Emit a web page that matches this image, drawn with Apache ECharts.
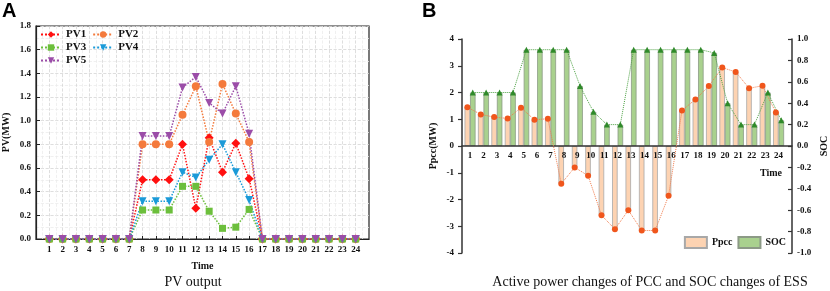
<!DOCTYPE html>
<html>
<head>
<meta charset="utf-8">
<script src="https://cdn.jsdelivr.net/npm/echarts@6/dist/echarts.min.js"></script>
<style>
  html, body { margin: 0; padding: 0; background: #fff; }
  #chart { width: 830px; height: 291px; }
</style>
</head>
<body>
<div id="chart"></div>
<script>
  // hours of the day, shared by both panels
  const hours = [1, 2, 3, 4, 5, 6, 7, 8, 9, 10, 11, 12, 13, 14, 15, 16, 17, 18, 19, 20, 21, 22, 23, 24]

  // panel A: PV output (MW)
  const pv1 = [0, 0, 0, 0, 0, 0, 0, 0.5, 0.5, 0.5, 0.8, 0.26, 0.855, 0.565, 0.81, 0.51, 0, 0, 0, 0, 0, 0, 0, 0]
  const pv2 = [0, 0, 0, 0, 0, 0, 0, 0.8, 0.8, 0.8, 1.05, 1.29, 0.82, 1.31, 1.06, 0.82, 0, 0, 0, 0, 0, 0, 0, 0]
  const pv3 = [0, 0, 0, 0, 0, 0, 0, 0.245, 0.245, 0.245, 0.445, 0.445, 0.235, 0.09, 0.1, 0.25, 0, 0, 0, 0, 0, 0, 0, 0]
  const pv4 = [0, 0, 0, 0, 0, 0, 0, 0.32, 0.32, 0.32, 0.565, 0.52, 0.67, 0.8, 0.565, 0.33, 0, 0, 0, 0, 0, 0, 0, 0]
  const pv5 = [0, 0, 0, 0, 0, 0, 0, 0.87, 0.87, 0.87, 1.28, 1.37, 1.15, 1.06, 1.29, 0.89, 0, 0, 0, 0, 0, 0, 0, 0]

  // panel B: PCC active power (MW) and ESS state of charge
  const ppcc = [1.45, 1.18, 1.08, 1.03, 1.43, 0.98, 1.02, -1.41, -0.8, -1.11, -2.59, -3.11, -2.4, -3.16, -3.16, -1.86, 1.33, 1.74, 2.24, 2.93, 2.77, 2.16, 2.25, 1.25]
  const soc = [0.5, 0.5, 0.5, 0.5, 0.9, 0.9, 0.9, 0.9, 0.56, 0.32, 0.2, 0.2, 0.9, 0.9, 0.9, 0.9, 0.9, 0.9, 0.87, 0.4, 0.2, 0.2, 0.5, 0.24]

  const serif = '"Liberation Serif", "Times New Roman", serif'
  const bold = { fontFamily: serif, fontWeight: 'bold', color: '#111', fontSize: 9 }

  const pvSeries = [
    { name: 'PV1', data: pv1, color: '#ff1010', symbol: 'diamond', size: 9, rotate: 0 },
    { name: 'PV2', data: pv2, color: '#f47a3c', symbol: 'circle', size: 8, rotate: 0 },
    { name: 'PV3', data: pv3, color: '#6cbf3c', symbol: 'rect', size: 7, rotate: 0 },
    { name: 'PV4', data: pv4, color: '#1a9ad8', symbol: 'triangle', size: 8, rotate: 180 },
    { name: 'PV5', data: pv5, color: '#9b4da8', symbol: 'triangle', size: 8, rotate: 180 }
  ]

  const pair = (arr) => hours.map((h, i) => [h, arr[i]])

  const legendBase = (top, names) => ({
    left: 40,
    top: top,
    data: names,
    itemWidth: 20,
    itemHeight: 8,
    itemGap: 6,
    padding: 0,
    textStyle: { fontFamily: serif, fontWeight: 'bold', fontSize: 11, color: '#111' }
  })

  // panel B plot box: top 39, bottom 38 -> zero line sits half way down
  const gridBTop = 39
  const gridBBottom = 38
  const gridBHeight = 291 - gridBTop - gridBBottom

  const chart = echarts.init(document.getElementById('chart'))

  chart.setOption({
    animation: false,
    graphic: [
      { type: 'text', left: 2, top: 1, style: { text: 'A', font: 'bold 20px "Liberation Sans", Arial', fill: '#000' } },
      { type: 'text', left: 422, top: 1, style: { text: 'B', font: 'bold 20px "Liberation Sans", Arial', fill: '#000' } },
      { type: 'text', x: 193, y: 282, style: { text: 'PV output', font: '14px ' + serif, fill: '#111', align: 'center', verticalAlign: 'middle' } },
      { type: 'text', x: 650, y: 282, style: { text: 'Active power changes of PCC and SOC changes of ESS', font: '14px ' + serif, fill: '#111', align: 'center', verticalAlign: 'middle' } },
      { type: 'text', x: 771, y: 173, style: { text: 'Time', font: 'bold 10px ' + serif, fill: '#111', align: 'center', verticalAlign: 'middle' } }
    ],
    legend: [
      legendBase(29, ['PV1', 'PV2']),
      legendBase(42, ['PV3', 'PV4']),
      legendBase(55, ['PV5']),
      {
        right: 44,
        top: 236,
        data: ['Ppcc', 'SOC'],
        icon: 'rect',
        itemWidth: 22,
        itemHeight: 11,
        itemGap: 5,
        padding: 0,
        textStyle: { fontFamily: serif, fontWeight: 'bold', fontSize: 10, color: '#111' }
      }
    ],
    grid: [
      { left: 31, right: 461, top: 26, bottom: 52, show: true, borderColor: '#222', borderWidth: 1.2 },
      { left: 462, right: 34, top: gridBTop, bottom: gridBBottom }
    ],
    xAxis: [
      {
        gridIndex: 0,
        type: 'value',
        min: 0,
        max: 25,
        interval: 1,
        name: 'Time',
        nameLocation: 'middle',
        nameGap: 22,
        nameTextStyle: { ...bold, fontSize: 10 },
        axisLine: { lineStyle: { color: '#222', width: 1.2 } },
        axisTick: { inside: true, length: 3, customValues: hours, lineStyle: { color: '#222' } },
        axisLabel: { ...bold, margin: 6, customValues: hours },
        splitLine: { show: true, lineStyle: { color: '#d6d6d6', type: 'dashed', width: 0.8 } },
        minorTick: { show: false, splitNumber: 2 },
        minorSplitLine: { show: true, lineStyle: { color: '#ececec', type: 'dashed', width: 0.8 } }
      },
      {
        gridIndex: 1,
        type: 'value',
        min: 0.4,
        max: 25,
        // pulled up from the bottom edge onto the zero line, drawn over the bars
        offset: -gridBHeight / 2,
        z: 4,
        axisLine: { onZero: false, lineStyle: { color: '#333', width: 1.5 } },
        axisTick: { show: false },
        axisLabel: { ...bold, margin: 5, customValues: hours },
        splitLine: { show: false }
      },
      // shifted copies so the markers sit on top of their own bar
      { gridIndex: 1, type: 'value', min: 0.6, max: 25.2, show: false, axisLine: { onZero: false } },
      { gridIndex: 1, type: 'value', min: 0.2, max: 24.8, show: false, axisLine: { onZero: false } }
    ],
    yAxis: [
      {
        gridIndex: 0,
        type: 'value',
        min: 0,
        max: 1.8,
        interval: 0.2,
        name: 'PV(MW)',
        nameLocation: 'middle',
        nameGap: 25,
        nameTextStyle: { ...bold, fontSize: 10 },
        axisLine: { show: true, lineStyle: { color: '#222', width: 1.2 } },
        axisTick: { show: true, inside: true, length: 4, lineStyle: { color: '#222' } },
        axisLabel: { ...bold, margin: 5, formatter: (v) => v.toFixed(1) },
        splitLine: { show: true, lineStyle: { color: '#d6d6d6', type: 'dashed', width: 0.8 } },
        minorTick: { show: false, splitNumber: 2 },
        minorSplitLine: { show: true, lineStyle: { color: '#ececec', type: 'dashed', width: 0.8 } }
      },
      {
        gridIndex: 1,
        type: 'value',
        min: -4,
        max: 4,
        interval: 1,
        name: 'Ppcc(MW)',
        nameLocation: 'middle',
        nameGap: 24,
        nameTextStyle: { ...bold, fontSize: 10 },
        axisLine: { show: true, onZero: false, lineStyle: { color: '#333', width: 1.5 } },
        axisTick: { show: true, length: 4, lineStyle: { color: '#333', width: 1.2 } },
        axisLabel: { ...bold, margin: 8 },
        splitLine: { show: false }
      },
      {
        gridIndex: 1,
        type: 'value',
        position: 'right',
        min: -1,
        max: 1,
        interval: 0.2,
        name: 'SOC',
        nameLocation: 'middle',
        nameGap: 27,
        nameTextStyle: { ...bold, fontSize: 10 },
        axisLine: { show: true, onZero: false, lineStyle: { color: '#333', width: 1.5 } },
        axisTick: { show: true, inside: true, length: 4, lineStyle: { color: '#333', width: 1.2 } },
        axisLabel: { ...bold, margin: 5, formatter: (v) => v.toFixed(1) },
        splitLine: { show: false }
      }
    ],
    series: [
      ...pvSeries.map(s => ({
        name: s.name,
        type: 'line',
        xAxisIndex: 0,
        yAxisIndex: 0,
        data: pair(s.data),
        symbol: s.symbol,
        symbolSize: s.size,
        symbolRotate: s.rotate,
        itemStyle: { color: s.color },
        lineStyle: { color: s.color, width: 1.5, type: 'dotted' }
      })),
      {
        name: 'Ppcc',
        type: 'bar',
        xAxisIndex: 1,
        yAxisIndex: 1,
        data: pair(ppcc),
        barWidth: 5.5,
        barGap: '0%',
        itemStyle: { color: '#fdd3b2', borderColor: '#a8a8a8', borderWidth: 0.8 }
      },
      {
        name: 'SOC',
        type: 'bar',
        xAxisIndex: 1,
        yAxisIndex: 2,
        data: pair(soc),
        barWidth: 5.5,
        barGap: '0%',
        itemStyle: { color: '#a9d18e', borderColor: '#8c9a86', borderWidth: 0.8 }
      },
      {
        name: 'Ppcc line',
        type: 'line',
        xAxisIndex: 2,
        yAxisIndex: 1,
        data: pair(ppcc),
        symbol: 'circle',
        symbolSize: 6,
        itemStyle: { color: '#f0561c' },
        lineStyle: { color: '#f07a4a', width: 1, type: 'dotted' },
        z: 5
      },
      {
        name: 'SOC line',
        type: 'line',
        xAxisIndex: 3,
        yAxisIndex: 2,
        data: pair(soc),
        symbol: 'triangle',
        symbolSize: 6,
        itemStyle: { color: '#2f8a2a' },
        lineStyle: { color: '#4aa040', width: 1, type: 'dotted' },
        z: 5
      }
    ]
  })
</script>
</body>
</html>
